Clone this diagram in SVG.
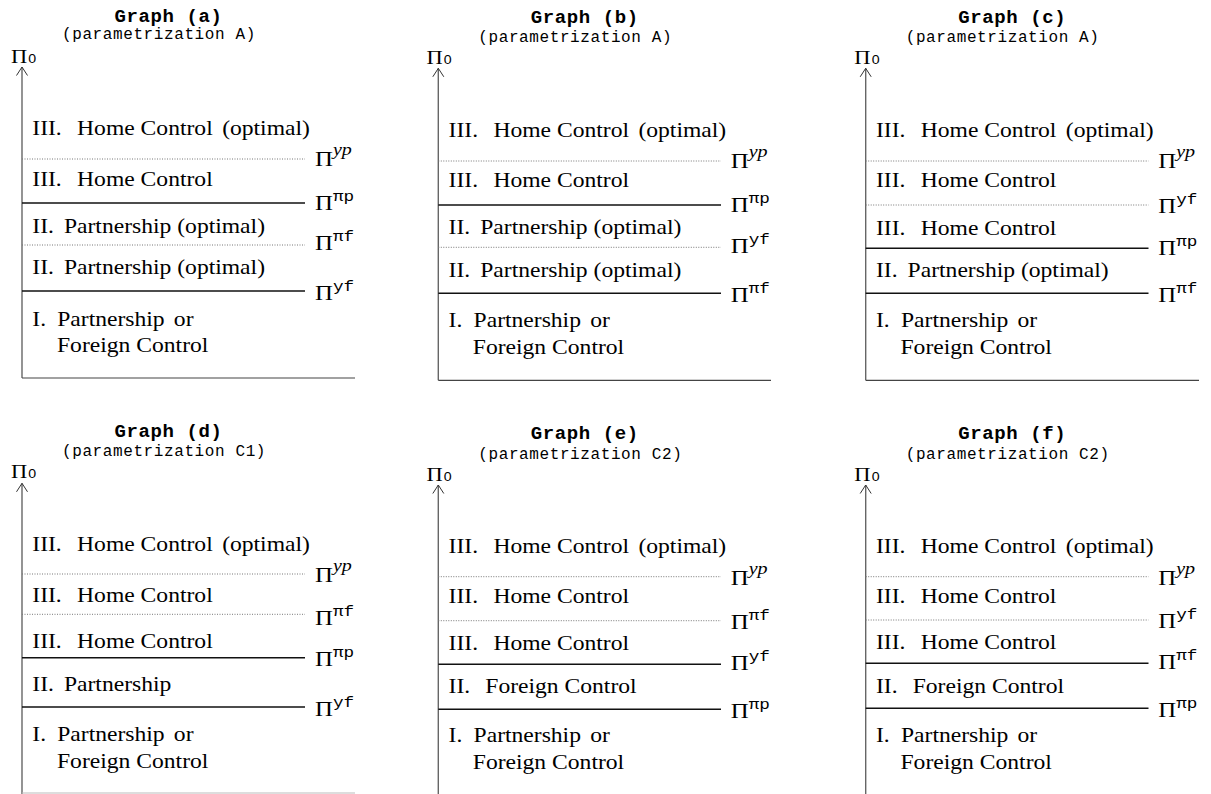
<svg xmlns="http://www.w3.org/2000/svg" width="1211" height="794" viewBox="0 0 1211 794">
<style>
.title{font-family:"Liberation Mono","Courier New",monospace;font-weight:bold;font-size:19px;letter-spacing:0.6px;fill:#000}
.sub{font-family:"Liberation Mono","Courier New",monospace;font-size:16px;letter-spacing:0.6px;fill:#000}
.b{font-family:"Liberation Serif","Times New Roman",serif;font-size:20px;fill:#000}
.pi{font-family:"Liberation Serif","Times New Roman",serif;font-size:21px;fill:#000}
.pi0{font-family:"Liberation Serif","Times New Roman",serif;font-size:19px;fill:#000}
.zero{font-family:"Liberation Sans",Arial,sans-serif;font-size:12px}
.si{font-family:"Liberation Serif","Times New Roman",serif;font-style:italic;font-size:17px}
.sm{font-family:"Liberation Mono","Courier New",monospace;font-size:15px}
.axis{stroke:#666;stroke-width:1.4;fill:none}
.arrow{stroke:#333;stroke-width:1;fill:none}
.solid{stroke:#111;stroke-width:1.5}
.dot{stroke:#777;stroke-width:1;stroke-dasharray:1 1.5}
.base{stroke:#444;stroke-width:1.2}
</style>

<!-- Panel (a) -->
<g id="graph-a">
<text class="title" x="114.5" y="21.5">Graph (a)</text>
<text class="sub" x="62" y="39">(parametrization A)</text>
<text class="pi0" transform="translate(11,63) scale(1.18,1)">Π<tspan class="zero" dx="1">0</tspan></text>
<text class="b" transform="translate(32.3,135) scale(1.18,1)">III.<tspan dx="8"> Home Control</tspan><tspan dx="3"> (optimal)</tspan></text>
<text class="b" transform="translate(32.3,186) scale(1.18,1)">III.<tspan dx="8"> Home Control</tspan></text>
<text class="b" transform="translate(32.3,233) scale(1.18,1)">II.<tspan dx="3.5"> Partnership (optimal)</tspan></text>
<text class="b" transform="translate(32.3,274) scale(1.18,1)">II.<tspan dx="3.5"> Partnership (optimal)</tspan></text>
<text class="b" transform="translate(32.3,326) scale(1.18,1)">I.<tspan dx="4.5"> Partnership</tspan><tspan dx="2.8"> or</tspan></text>
<text class="b" transform="translate(57,352) scale(1.18,1)">Foreign Control</text>
<text class="pi" transform="translate(315,166) scale(1.18,1)">Π<tspan class="si" dy="-11">yp</tspan></text>
<text class="pi" transform="translate(315,210) scale(1.18,1)">Π<tspan class="sm" dy="-9">πp</tspan></text>
<text class="pi" transform="translate(315,250) scale(1.18,1)">Π<tspan class="sm" dy="-9">πf</tspan></text>
<text class="pi" transform="translate(315,300) scale(1.18,1)">Π<tspan class="sm" dy="-9">yf</tspan></text>
</g>

<!-- Panel (b) -->
<g id="graph-b">
<text class="title" x="530.8" y="23">Graph (b)</text>
<text class="sub" x="478.3" y="41.5">(parametrization A)</text>
<text class="pi0" transform="translate(426.5,64) scale(1.18,1)">Π<tspan class="zero" dx="1">0</tspan></text>
<text class="b" transform="translate(448.6,137) scale(1.18,1)">III.<tspan dx="8"> Home Control</tspan><tspan dx="3"> (optimal)</tspan></text>
<text class="b" transform="translate(448.6,187.3) scale(1.18,1)">III.<tspan dx="8"> Home Control</tspan></text>
<text class="b" transform="translate(448.6,234.3) scale(1.18,1)">II.<tspan dx="3.5"> Partnership (optimal)</tspan></text>
<text class="b" transform="translate(448.6,276.7) scale(1.18,1)">II.<tspan dx="3.5"> Partnership (optimal)</tspan></text>
<text class="b" transform="translate(448.6,326.7) scale(1.18,1)">I.<tspan dx="4.5"> Partnership</tspan><tspan dx="2.8"> or</tspan></text>
<text class="b" transform="translate(472.8,354) scale(1.18,1)">Foreign Control</text>
<text class="pi" transform="translate(730.8,167.7) scale(1.18,1)">Π<tspan class="si" dy="-11">yp</tspan></text>
<text class="pi" transform="translate(730.8,212.3) scale(1.18,1)">Π<tspan class="sm" dy="-9">πp</tspan></text>
<text class="pi" transform="translate(730.8,252.7) scale(1.18,1)">Π<tspan class="sm" dy="-9">yf</tspan></text>
<text class="pi" transform="translate(730.8,301.7) scale(1.18,1)">Π<tspan class="sm" dy="-9">πf</tspan></text>
</g>

<!-- Panel (c) -->
<g id="graph-c">
<text class="title" x="958.2" y="23">Graph (c)</text>
<text class="sub" x="905.7" y="42">(parametrization A)</text>
<text class="pi0" transform="translate(854.3,64) scale(1.18,1)">Π<tspan class="zero" dx="1">0</tspan></text>
<text class="b" transform="translate(876,137) scale(1.18,1)">III.<tspan dx="8"> Home Control</tspan><tspan dx="3"> (optimal)</tspan></text>
<text class="b" transform="translate(876,187.3) scale(1.18,1)">III.<tspan dx="8"> Home Control</tspan></text>
<text class="b" transform="translate(876,235) scale(1.18,1)">III.<tspan dx="8"> Home Control</tspan></text>
<text class="b" transform="translate(876,277) scale(1.18,1)">II.<tspan dx="3.5"> Partnership (optimal)</tspan></text>
<text class="b" transform="translate(876,326.7) scale(1.18,1)">I.<tspan dx="4.5"> Partnership</tspan><tspan dx="2.8"> or</tspan></text>
<text class="b" transform="translate(900.5,353.5) scale(1.18,1)">Foreign Control</text>
<text class="pi" transform="translate(1158.3,167.7) scale(1.18,1)">Π<tspan class="si" dy="-11">yp</tspan></text>
<text class="pi" transform="translate(1158.3,213) scale(1.18,1)">Π<tspan class="sm" dy="-9">yf</tspan></text>
<text class="pi" transform="translate(1158.3,255) scale(1.18,1)">Π<tspan class="sm" dy="-9">πp</tspan></text>
<text class="pi" transform="translate(1158.3,301.7) scale(1.18,1)">Π<tspan class="sm" dy="-9">πf</tspan></text>
</g>

<!-- Panel (d) -->
<g id="graph-d">
<text class="title" x="114.5" y="436.5">Graph (d)</text>
<text class="sub" x="62" y="455.5">(parametrization C1)</text>
<text class="pi0" transform="translate(11,478.3) scale(1.18,1)">Π<tspan class="zero" dx="1">0</tspan></text>
<text class="b" transform="translate(32.3,551) scale(1.18,1)">III.<tspan dx="8"> Home Control</tspan><tspan dx="3"> (optimal)</tspan></text>
<text class="b" transform="translate(32.3,601.5) scale(1.18,1)">III.<tspan dx="8"> Home Control</tspan></text>
<text class="b" transform="translate(32.3,648) scale(1.18,1)">III.<tspan dx="8"> Home Control</tspan></text>
<text class="b" transform="translate(32.3,690.5) scale(1.18,1)">II.<tspan dx="3.5"> Partnership</tspan></text>
<text class="b" transform="translate(32.3,740.5) scale(1.18,1)">I.<tspan dx="4.5"> Partnership</tspan><tspan dx="2.8"> or</tspan></text>
<text class="b" transform="translate(57,768) scale(1.18,1)">Foreign Control</text>
<text class="pi" transform="translate(315,581.7) scale(1.18,1)">Π<tspan class="si" dy="-11">yp</tspan></text>
<text class="pi" transform="translate(315,625) scale(1.18,1)">Π<tspan class="sm" dy="-9">πf</tspan></text>
<text class="pi" transform="translate(315,666) scale(1.18,1)">Π<tspan class="sm" dy="-9">πp</tspan></text>
<text class="pi" transform="translate(315,715.5) scale(1.18,1)">Π<tspan class="sm" dy="-9">yf</tspan></text>
</g>

<!-- Panel (e) -->
<g id="graph-e">
<text class="title" x="530.8" y="439">Graph (e)</text>
<text class="sub" x="478.3" y="458.8">(parametrization C2)</text>
<text class="pi0" transform="translate(426.5,480.7) scale(1.18,1)">Π<tspan class="zero" dx="1">0</tspan></text>
<text class="b" transform="translate(448.6,552.5) scale(1.18,1)">III.<tspan dx="8"> Home Control</tspan><tspan dx="3"> (optimal)</tspan></text>
<text class="b" transform="translate(448.6,603) scale(1.18,1)">III.<tspan dx="8"> Home Control</tspan></text>
<text class="b" transform="translate(448.6,650) scale(1.18,1)">III.<tspan dx="8"> Home Control</tspan></text>
<text class="b" transform="translate(448.6,692.5) scale(1.18,1)">II.<tspan dx="7.8"> Foreign Control</tspan></text>
<text class="b" transform="translate(448.6,741.5) scale(1.18,1)">I.<tspan dx="4.5"> Partnership</tspan><tspan dx="2.8"> or</tspan></text>
<text class="b" transform="translate(472.8,769) scale(1.18,1)">Foreign Control</text>
<text class="pi" transform="translate(730.8,584.5) scale(1.18,1)">Π<tspan class="si" dy="-11">yp</tspan></text>
<text class="pi" transform="translate(730.8,628.5) scale(1.18,1)">Π<tspan class="sm" dy="-9">πf</tspan></text>
<text class="pi" transform="translate(730.8,670) scale(1.18,1)">Π<tspan class="sm" dy="-9">yf</tspan></text>
<text class="pi" transform="translate(730.8,717.5) scale(1.18,1)">Π<tspan class="sm" dy="-9">πp</tspan></text>
</g>

<!-- Panel (f) -->
<g id="graph-f">
<text class="title" x="958.2" y="439">Graph (f)</text>
<text class="sub" x="905.7" y="458.8">(parametrization C2)</text>
<text class="pi0" transform="translate(854.3,480.7) scale(1.18,1)">Π<tspan class="zero" dx="1">0</tspan></text>
<text class="b" transform="translate(876,552.5) scale(1.18,1)">III.<tspan dx="8"> Home Control</tspan><tspan dx="3"> (optimal)</tspan></text>
<text class="b" transform="translate(876,603) scale(1.18,1)">III.<tspan dx="8"> Home Control</tspan></text>
<text class="b" transform="translate(876,649) scale(1.18,1)">III.<tspan dx="8"> Home Control</tspan></text>
<text class="b" transform="translate(876,692.5) scale(1.18,1)">II.<tspan dx="7.8"> Foreign Control</tspan></text>
<text class="b" transform="translate(876,741.5) scale(1.18,1)">I.<tspan dx="4.5"> Partnership</tspan><tspan dx="2.8"> or</tspan></text>
<text class="b" transform="translate(900.5,769) scale(1.18,1)">Foreign Control</text>
<text class="pi" transform="translate(1158.3,584.5) scale(1.18,1)">Π<tspan class="si" dy="-11">yp</tspan></text>
<text class="pi" transform="translate(1158.3,628) scale(1.18,1)">Π<tspan class="sm" dy="-9">yf</tspan></text>
<text class="pi" transform="translate(1158.3,669) scale(1.18,1)">Π<tspan class="sm" dy="-9">πf</tspan></text>
<text class="pi" transform="translate(1158.3,716.7) scale(1.18,1)">Π<tspan class="sm" dy="-9">πp</tspan></text>
</g>

<!-- Lines / axes -->
<g id="connectors">
<!-- a -->
<line class="axis" x1="22" y1="67" x2="22" y2="378"/>
<path class="arrow" d="M16.5,75.5 L22,67 L27.5,75.5"/>
<line class="base" x1="22" y1="378" x2="355" y2="378"/>
<line class="dot" x1="22" y1="159" x2="305" y2="159"/>
<line class="solid" x1="22" y1="203" x2="305" y2="203"/>
<line class="dot" x1="22" y1="245" x2="305" y2="245"/>
<line class="solid" x1="22" y1="291" x2="305" y2="291"/>
<!-- b -->
<line class="axis" x1="438.3" y1="68.3" x2="438.3" y2="380.3"/>
<path class="arrow" d="M432.8,76.8 L438.3,68.3 L443.8,76.8"/>
<line class="base" x1="438.3" y1="380.3" x2="771" y2="380.3"/>
<line class="dot" x1="438.3" y1="161" x2="721" y2="161"/>
<line class="solid" x1="438.3" y1="205" x2="721" y2="205"/>
<line class="dot" x1="438.3" y1="247.3" x2="721" y2="247.3"/>
<line class="solid" x1="438.3" y1="293.3" x2="721" y2="293.3"/>
<!-- c -->
<line class="axis" x1="865.7" y1="68.3" x2="865.7" y2="380.3"/>
<path class="arrow" d="M860.2,76.8 L865.7,68.3 L871.2,76.8"/>
<line class="base" x1="865.7" y1="380.3" x2="1199" y2="380.3"/>
<line class="dot" x1="865.7" y1="161" x2="1148.5" y2="161"/>
<line class="dot" x1="865.7" y1="205" x2="1148.5" y2="205"/>
<line class="solid" x1="865.7" y1="248.3" x2="1148.5" y2="248.3"/>
<line class="solid" x1="865.7" y1="293.3" x2="1148.5" y2="293.3"/>
<!-- d -->
<line class="axis" x1="22" y1="483.3" x2="22" y2="794"/>
<path class="arrow" d="M16.5,491.8 L22,483.3 L27.5,491.8"/>
<line class="base" x1="22" y1="793" x2="355" y2="793" style="stroke:#bbb"/>
<line class="dot" x1="22" y1="574" x2="305" y2="574"/>
<line class="dot" x1="22" y1="614.3" x2="305" y2="614.3"/>
<line class="solid" x1="22" y1="657.7" x2="305" y2="657.7"/>
<line class="solid" x1="22" y1="707" x2="305" y2="707"/>
<!-- e -->
<line class="axis" x1="438.3" y1="485" x2="438.3" y2="794"/>
<path class="arrow" d="M432.8,493.5 L438.3,485 L443.8,493.5"/>
<line class="dot" x1="438.3" y1="576.7" x2="721" y2="576.7"/>
<line class="dot" x1="438.3" y1="620.7" x2="721" y2="620.7"/>
<line class="solid" x1="438.3" y1="664.3" x2="721" y2="664.3"/>
<line class="solid" x1="438.3" y1="709.3" x2="721" y2="709.3"/>
<!-- f -->
<line class="axis" x1="865.7" y1="485" x2="865.7" y2="794"/>
<path class="arrow" d="M860.2,493.5 L865.7,485 L871.2,493.5"/>
<line class="dot" x1="865.7" y1="576.7" x2="1148.5" y2="576.7"/>
<line class="dot" x1="865.7" y1="620" x2="1148.5" y2="620"/>
<line class="solid" x1="865.7" y1="663.3" x2="1148.5" y2="663.3"/>
<line class="solid" x1="865.7" y1="708.3" x2="1148.5" y2="708.3"/>
</g>
</svg>
